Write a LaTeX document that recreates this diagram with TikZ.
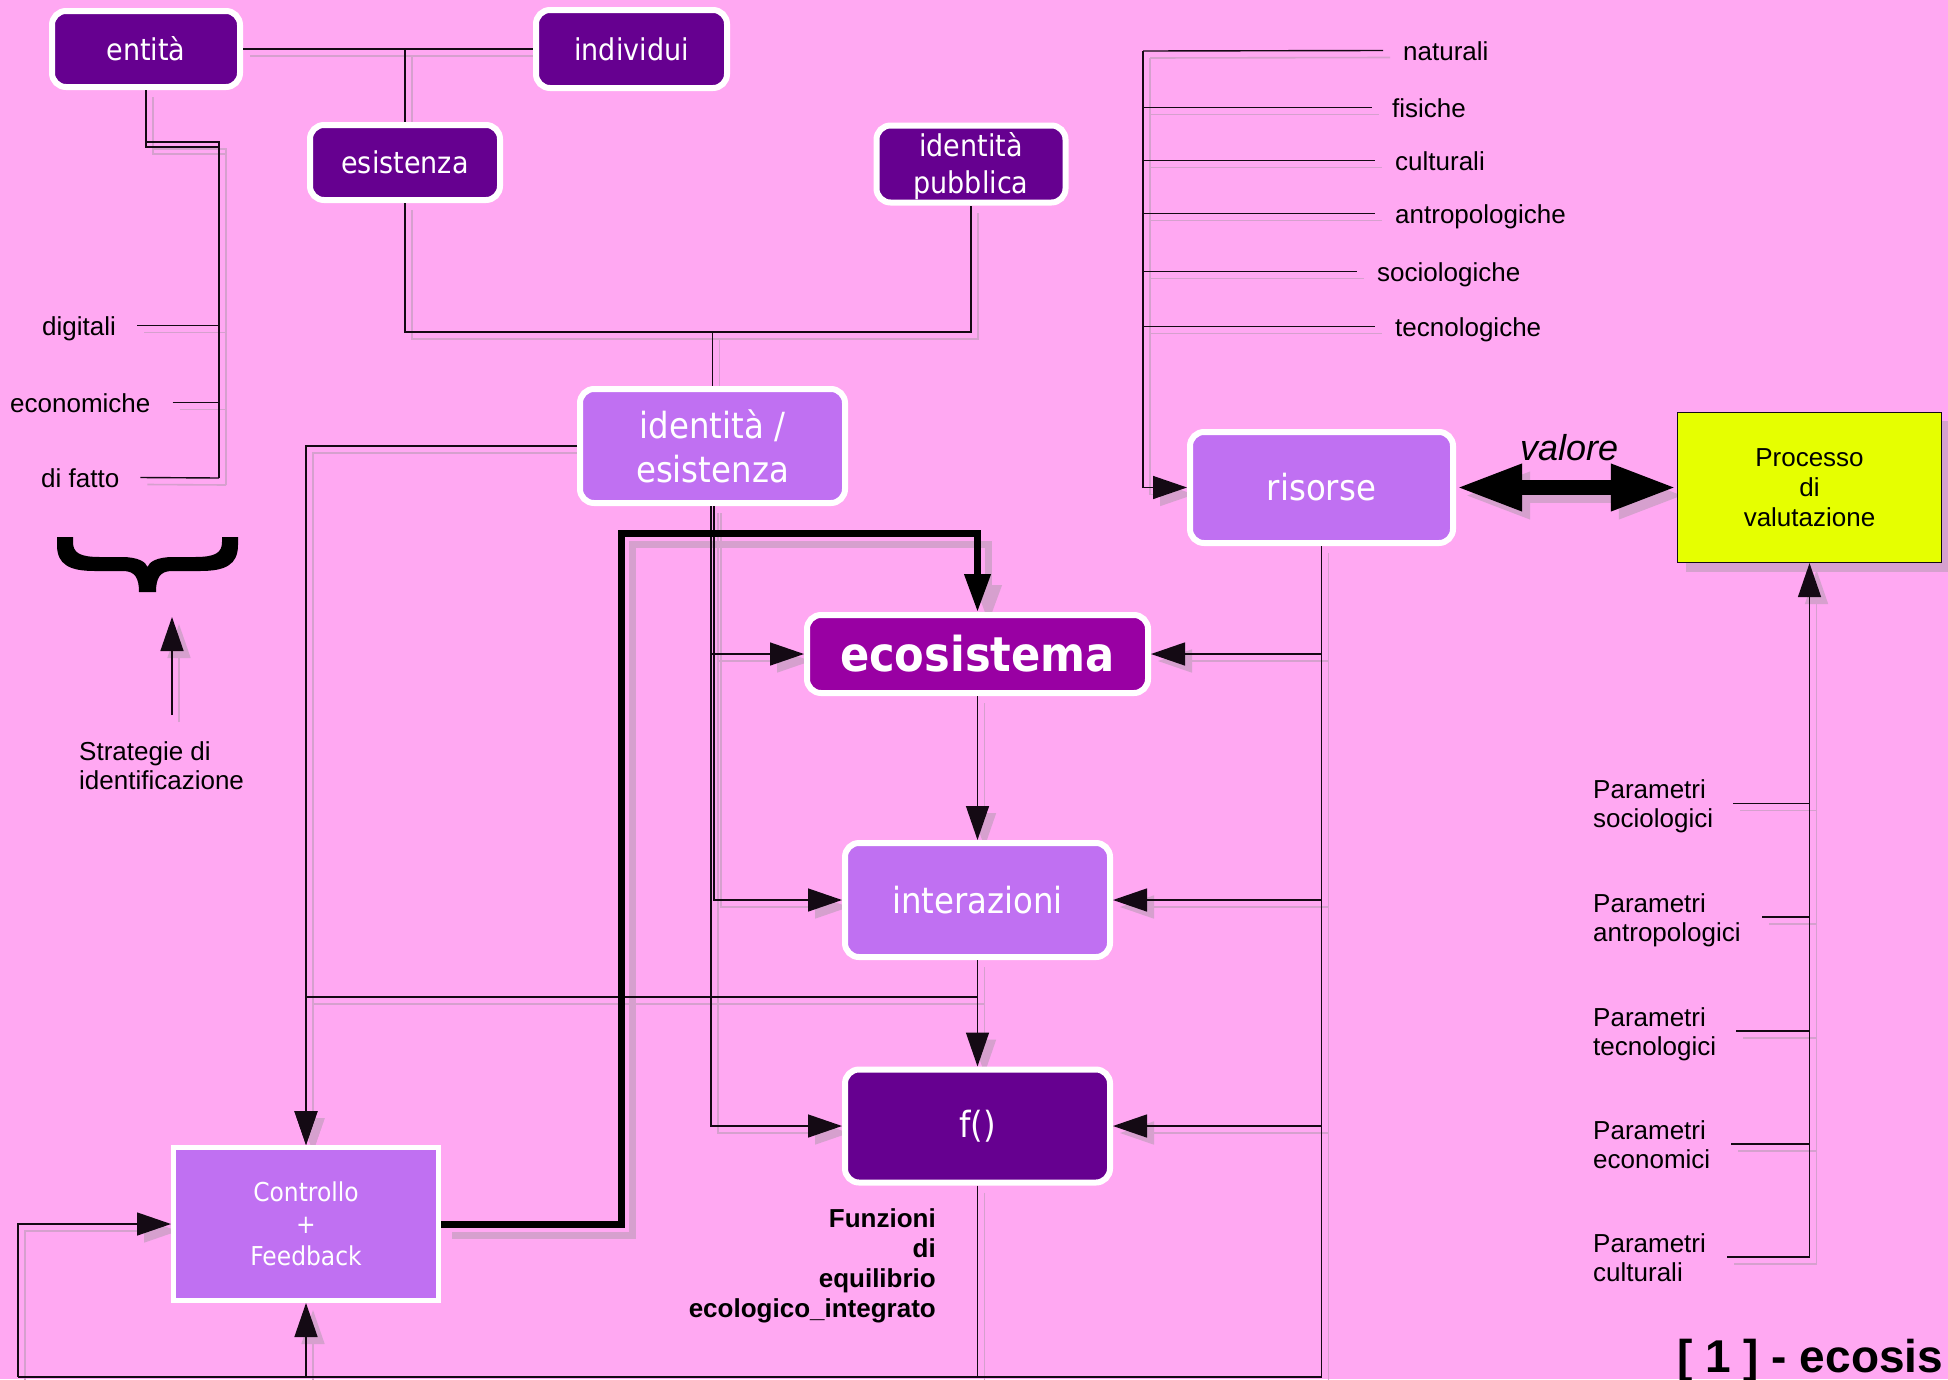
\documentclass[tikz,border=0pt]{standalone}
\usepackage{fontspec}
\setmainfont{Liberation Sans}
\newfontfamily\boxfont[FakeStretch=0.9]{DejaVu Sans}
\usetikzlibrary{arrows.meta}
\pgfdeclarelayer{back}
\pgfdeclarelayer{shadow}
\pgfsetlayers{back,shadow,main}
\definecolor{bgpink}{RGB}{255,168,242}
\definecolor{boxdark}{RGB}{102,0,144}
\definecolor{boxeco}{RGB}{153,0,163}
\definecolor{boxlight}{RGB}{192,112,242}
\definecolor{procyel}{RGB}{230,255,0}
\definecolor{shadcol}{RGB}{214,160,206}
\definecolor{linecol}{RGB}{20,10,20}
\tikzset{
  box/.style={draw=white, line width=6pt, rounded corners=14pt, text=white, inner sep=0pt, align=center},
  darkbox/.style={box, fill=boxdark},
  lightbox/.style={box, fill=boxlight},
  ecobox/.style={box, fill=boxeco},
  ctrlbox/.style={draw=white, line width=5pt, fill=boxlight, text=white, inner sep=0pt, align=center},
  procbox/.style={draw=linecol, line width=1.2pt, fill=procyel, text=black, inner sep=0pt, align=center},
  bfa/.style={font=\boxfont\fontsize{30}{37}\selectfont},
  bfb/.style={font=\boxfont\fontsize{36}{44}\selectfont},
  conn/.style={draw=linecol, line width=1.4pt},
  shad/.style={draw=shadcol, line width=1.6pt},
  tip/.style={-{Triangle[length=34pt,width=23pt]}},
  bigtip/.style={-{Triangle[length=38pt,width=25pt]}},
  lbl/.style={font=\fontsize{26}{29}\selectfont, inner sep=0pt, text=black, text height=19pt, text depth=0pt},
  lblm/.style={font=\fontsize{26}{29}\selectfont, inner sep=0pt, text=black},
}
\newcommand\cpath[2][]{%
  \begin{pgfonlayer}{shadow}\draw[shad,#1,transform canvas={shift={(7pt,-7pt)}}] #2;\end{pgfonlayer}%
  \draw[conn,#1] #2;}
\newcommand\mlL[1]{\begin{tabular}[t]{@{}l@{}}#1\end{tabular}}
\newcommand\mlR[1]{\begin{tabular}[t]{@{}r@{}}#1\end{tabular}}

\begin{document}
\begin{tikzpicture}[x=1pt,y=-1pt]
\useasboundingbox (0,0) rectangle (1948,1379);
\begin{pgfonlayer}{back}
\fill[bgpink] (0,0) rectangle (1948,1379);
\end{pgfonlayer}

% ---------- boxes ----------
\node[darkbox, bfa, minimum width=188pt, minimum height=76pt] (entita) at (146,49) {entità};
\node[darkbox, bfa, minimum width=191pt, minimum height=78pt] (individui) at (631.5,49) {individui};
\node[darkbox, bfa, minimum width=190pt, minimum height=75pt] (esistenza) at (405,162.5) {esistenza};
\node[darkbox, bfa, minimum width=189pt, minimum height=77pt] (idpub) at (971,164) {\raisebox{-4pt}[\height][\depth]{\begin{tabular}{@{}c@{}}identità\\pubblica\end{tabular}}};
\node[lightbox, bfb, minimum width=265pt, minimum height=114pt] (idex) at (712.5,446) {identità /\\esistenza};
\node[lightbox, bfb, minimum width=263pt, minimum height=111pt] (risorse) at (1321.5,487.5) {risorse};
\node[ecobox, font=\boxfont\bfseries\fontsize{48}{56}\selectfont, minimum width=341pt, minimum height=78pt] (eco) at (977.5,654) {ecosistema};
\node[lightbox, bfb, minimum width=265pt, minimum height=114pt] (inter) at (977.5,900) {interazioni};
\node[darkbox, bfb, minimum width=265pt, minimum height=113pt] (f) at (977.5,1126) {f()};
\node[ctrlbox, font=\boxfont\fontsize{26}{32}\selectfont, minimum width=265pt, minimum height=153pt] (ctrl) at (306,1224) {Controllo\\+\\Feedback};
\begin{pgfonlayer}{shadow}
\fill[shadcol] (1685.5,420.5) rectangle (1950.5,571.5);
\end{pgfonlayer}
\node[procbox, font=\fontsize{26}{30}\selectfont, minimum width=264pt, minimum height=150pt] (proc) at (1809.5,487.5) {Processo\\di\\valutazione};

% ---------- labels ----------
\node[lbl, anchor=base west] (digitali) at (42,335) {digitali};
\node[lbl, anchor=base west] (economiche) at (10,412) {economiche};
\node[lbl, anchor=base west] (difatto) at (41,487) {di fatto};
\node[lbl, anchor=base west] (naturali) at (1403,60) {naturali};
\node[lbl, anchor=base west] (fisiche) at (1392,117) {fisiche};
\node[lbl, anchor=base west] (culturali) at (1395,170) {culturali};
\node[lbl, anchor=base west] (antro) at (1395,223) {antropologiche};
\node[lbl, anchor=base west] (socio) at (1377,281) {sociologiche};
\node[lbl, anchor=base west] (tecno) at (1395,336) {tecnologiche};
\node[lblm, anchor=base west] (strat) at (79,760) {\mlL{Strategie di\\identificazione}};
\node[lblm, anchor=base west] (ps) at (1593,798) {\mlL{Parametri\\sociologici}};
\node[lblm, anchor=base west] (pa) at (1593,912) {\mlL{Parametri\\antropologici}};
\node[lblm, anchor=base west] (pt) at (1593,1026) {\mlL{Parametri\\tecnologici}};
\node[lblm, anchor=base west] (pe) at (1593,1139) {\mlL{Parametri\\economici}};
\node[lblm, anchor=base west] (pc) at (1593,1252) {\mlL{Parametri\\culturali}};
\node[inner sep=0pt, anchor=base east, font=\bfseries\fontsize{26}{30}\selectfont] (funz) at (936,1227) {\mlR{Funzioni\\di\\equilibrio\\ecologico\_integrato}};
\node[inner sep=0pt, anchor=base west, font=\itshape\fontsize{36}{40}\selectfont] (valore) at (1520,460) {valore};
\node[inner sep=0pt, anchor=base west, font=\bfseries\fontsize{46}{50}\selectfont] (title) at (1677,1372) {[ 1 ] - ecosis};

% ---------- coordinates ----------
\coordinate (jEI) at (405,49);
\coordinate (jL1) at (219,142);
\coordinate (jL2) at (219,147);
\coordinate (jLend) at (219,478);
\coordinate (jES) at (405,332);
\coordinate (jID) at (712.5,332);
\coordinate (rTop) at (1143,51);
\coordinate (rBot) at (1143,487.5);
\coordinate (jC) at (306,997);
\coordinate (bR) at (1321.5,1377);
\coordinate (bL) at (18,1377);
\coordinate (jT) at (621,533);
\coordinate (sTip) at (172,617);
\coordinate (sBase) at (172,715);
\coordinate (pBot) at (1809.5,1257);
\coordinate (p1) at (1733,803.6);
\coordinate (p2) at (1762,917);
\coordinate (p3) at (1736,1031);
\coordinate (p4) at (1731,1144);
\coordinate (p5) at (1727,1257);

% ---------- connectors ----------
\cpath{(entita.east) -- (individui.west)}
\cpath{(jEI) -- (esistenza.north)}
\cpath{(entita.south) |- (jL1) -- (jLend)}
\cpath{(entita.south) |- (jL2)}
\cpath{([xshift=21pt]digitali.east) -- (digitali.east -| jL1)}
\cpath{([xshift=22pt]economiche.east) -- (economiche.east -| jL1)}
\cpath{([xshift=21pt]difatto.east) -- (jLend)}

\cpath{(esistenza.south) -- (jES) -| (idpub.south)}
\cpath{(jID) -- (idex.north)}

\cpath[tip]{(rTop) -- (rBot) -- (risorse.west)}
\cpath{(rTop) -- ([xshift=-20pt]naturali.west)}
\cpath{(rTop |- fisiche.west) -- ([xshift=-20pt]fisiche.west)}
\cpath{(rTop |- culturali.west) -- ([xshift=-20pt]culturali.west)}
\cpath{(rTop |- antro.west) -- ([xshift=-20pt]antro.west)}
\cpath{(rTop |- socio.west) -- ([xshift=-20pt]socio.west)}
\cpath{(rTop |- tecno.west) -- ([xshift=-20pt]tecno.west)}

\cpath{(risorse.south) -- (bR)}
\cpath[tip]{(risorse.south |- eco.east) -- (eco.east)}
\cpath[tip]{(risorse.south |- inter.east) -- (inter.east)}
\cpath[tip]{(risorse.south |- f.east) -- (f.east)}

\cpath[tip]{([xshift=-1.5pt]idex.south) |- (eco.west)}
\cpath[tip]{([xshift=1.5pt]idex.south) |- (inter.west)}
\cpath[tip]{([xshift=-1.5pt]idex.south) |- (f.west)}
\cpath[tip]{(idex.west) -| (ctrl.north)}

\cpath[tip]{(eco.south) -- (inter.north)}
\cpath[tip]{(inter.south) -- (f.north)}
\cpath[tip]{(inter.south) |- (jC) -- (ctrl.north)}
\cpath{(f.south) -- (f.south |- bR)}
\cpath{(bR) -- (bL)}
\cpath[tip]{(bL) |- (ctrl.west)}
\cpath[tip]{(ctrl.south |- bL) -- (ctrl.south)}

\cpath[tip]{(sBase) -- (sTip)}

\cpath[tip]{(pBot) -- (proc.south)}
\cpath{(p1) -- (p1 -| pBot)}
\cpath{(p2) -- (p2 -| pBot)}
\cpath{(p3) -- (p3 -| pBot)}
\cpath{(p4) -- (p4 -| pBot)}
\cpath{(p5) -- (pBot)}

% thick feedback line
\begin{pgfonlayer}{shadow}
\draw[draw=shadcol, line width=7pt, bigtip, transform canvas={shift={(11pt,-11pt)}}] (ctrl.east) -| (jT) -| (eco.north);
\end{pgfonlayer}
\draw[draw=black, line width=7pt, bigtip] (ctrl.east) -| (jT) -| (eco.north);

% double arrow valore
\begin{pgfonlayer}{shadow}
\draw[draw=shadcol, line width=15pt, {Triangle[length=66pt,width=43pt]}-{Triangle[length=66pt,width=43pt]}, transform canvas={shift={(8pt,-8pt)}}] (risorse.east) -- (proc.west);
\end{pgfonlayer}
\draw[draw=black, line width=15pt, {Triangle[length=66pt,width=43pt]}-{Triangle[length=66pt,width=43pt]}] (risorse.east) -- (proc.west);

% brace
\fill[black] (57,537) -- (73,537) -- (73,542) .. controls (73,553) and (80,557) .. (100,557) -- (122,557) .. controls (138,557) and (146,562) .. (147.5,567) .. controls (149,562) and (157,557) .. (173,557) -- (195,557) .. controls (215,557) and (222,553) .. (222,542) -- (222,537) -- (238,537) -- (238,545) .. controls (238,565) and (225,571) .. (200,571) -- (172,571) .. controls (160,571) and (156,578) .. (156,592) -- (139,592) .. controls (139,578) and (135,571) .. (123,571) -- (95,571) .. controls (70,571) and (57,565) .. (57,545) -- cycle;
\end{tikzpicture}
\end{document}
